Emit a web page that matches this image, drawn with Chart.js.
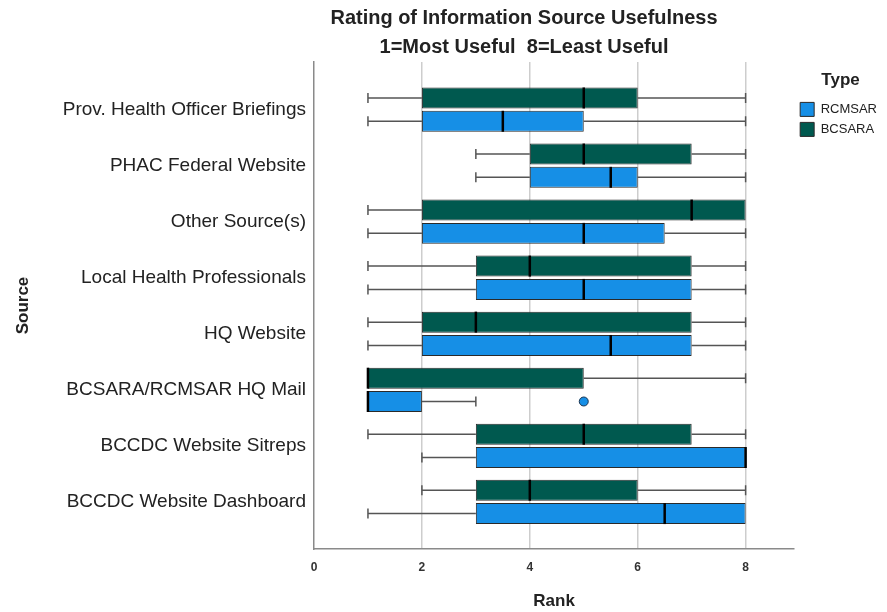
<!DOCTYPE html>
<html>
<head>
<meta charset="utf-8">
<script src="https://cdn.jsdelivr.net/npm/chart.js@4.4.0/dist/chart.umd.min.js"></script>
<style>
  html, body { margin: 0; padding: 0; background: #fff; }
  #wrap { width: 887px; height: 612px; }
</style>
</head>
<body>
<div id="wrap"><canvas id="chart"></canvas></div>
<script>
const sources = ['Prov. Health Officer Briefings', 'PHAC Federal Website', 'Other Source(s)', 'Local Health Professionals',
  'HQ Website', 'BCSARA/RCMSAR HQ Mail', 'BCCDC Website Sitreps', 'BCCDC Website Dashboard'];
const rankTicks = [0, 2, 4, 6, 8];

// BCSARA box stats (rank)
const bcsaraMin = [1, 3, 1, 1, 1, 1, 1, 2];
const bcsaraQ1  = [2, 4, 2, 3, 2, 1, 3, 3];
const bcsaraMed = [5, 5, 7, 4, 3, 1, 5, 4];
const bcsaraQ3  = [6, 7, 8, 7, 7, 5, 7, 6];
const bcsaraMax = [8, 8, 8, 8, 8, 8, 8, 8];

// RCMSAR box stats (rank)
const rcmsarMin = [1, 3, 1, 1, 1, 1, 2, 1];
const rcmsarQ1  = [2, 4, 2, 3, 2, 1, 3, 3];
const rcmsarMed = [3.5, 5.5, 5, 5, 5.5, 1, 8, 6.5];
const rcmsarQ3  = [5, 6, 6.5, 7, 7, 2, 8, 8];
const rcmsarMax = [8, 8, 8, 8, 8, 3, 8, 8];
const rcmsarOutliers = [[], [], [], [], [], [5], [], []];

Chart.defaults.font.family = "'Liberation Sans', Arial, sans-serif";

// whiskers behind the boxes, medians + outliers on top
const boxExtras = {
  id: 'boxExtras',
  beforeDatasetsDraw(chart) {
    const ctx = chart.ctx;
    const xs = chart.scales.x;
    chart.data.datasets.forEach((ds, di) => {
      chart.getDatasetMeta(di).data.forEach((bar, i) => {
        const y = bar.y;
        const lo = xs.getPixelForValue(ds.wMin[i]);
        const q1 = xs.getPixelForValue(ds.wQ1[i]);
        const q3 = xs.getPixelForValue(ds.wQ3[i]);
        const hi = xs.getPixelForValue(ds.wMax[i]);
        ctx.save();
        ctx.strokeStyle = '#555';
        ctx.lineWidth = 1.5;
        ctx.beginPath();
        if (lo < q1) {
          ctx.moveTo(lo, y); ctx.lineTo(q1, y);
          ctx.moveTo(lo, y - 5); ctx.lineTo(lo, y + 5);
        }
        if (hi > q3) {
          ctx.moveTo(q3, y); ctx.lineTo(hi, y);
          ctx.moveTo(hi, y - 5); ctx.lineTo(hi, y + 5);
        }
        ctx.stroke();
        ctx.restore();
      });
    });
  },
  afterDatasetsDraw(chart) {
    const ctx = chart.ctx;
    const xs = chart.scales.x;
    chart.data.datasets.forEach((ds, di) => {
      chart.getDatasetMeta(di).data.forEach((bar, i) => {
        const m = xs.getPixelForValue(ds.wMed[i]);
        const h = bar.height / 2;
        ctx.save();
        ctx.strokeStyle = '#000';
        ctx.lineWidth = 2.5;
        ctx.beginPath();
        ctx.moveTo(m, bar.y - h); ctx.lineTo(m, bar.y + h);
        ctx.stroke();
        (ds.outliers[i] || []).forEach(v => {
          ctx.beginPath();
          ctx.arc(xs.getPixelForValue(v), bar.y, 4.5, 0, Math.PI * 2);
          ctx.fillStyle = ds.backgroundColor;
          ctx.fill();
          ctx.lineWidth = 1;
          ctx.strokeStyle = '#1c3550';
          ctx.stroke();
        });
        ctx.restore();
      });
    });
  },
  afterDraw(chart) {
    const ctx = chart.ctx;
    ctx.save();
    ctx.fillStyle = '#222';
    ctx.textAlign = 'center';
    ctx.textBaseline = 'middle';
    ctx.font = "bold 20px 'Liberation Sans Narrow', 'Liberation Sans', Arial, sans-serif";
    ctx.fillText('Rating of Information Source Usefulness', 524, 18, 387);
    ctx.fillText('1=Most Useful  8=Least Useful', 524, 47, 291);
    ctx.restore();
  }
};

function boxData(q1, q3) {
  return sources.map((s, i) => ({ x: [q1[i], q3[i]], y: i }));
}

new Chart(document.getElementById('chart'), {
  type: 'bar',
  data: {
    datasets: [
      {
        label: 'BCSARA',
        data: boxData(bcsaraQ1, bcsaraQ3),
        backgroundColor: '#00594f',
        borderColor: '#2a2a2a',
        borderWidth: 1,
        borderSkipped: false,
        categoryPercentage: 0.832,
        barPercentage: 0.9,
        wMin: bcsaraMin, wQ1: bcsaraQ1, wMed: bcsaraMed, wQ3: bcsaraQ3, wMax: bcsaraMax,
        outliers: []
      },
      {
        label: 'RCMSAR',
        data: boxData(rcmsarQ1, rcmsarQ3),
        backgroundColor: '#168fe6',
        borderColor: '#2a2a2a',
        borderWidth: 1,
        borderSkipped: false,
        categoryPercentage: 0.832,
        barPercentage: 0.9,
        wMin: rcmsarMin, wQ1: rcmsarQ1, wMed: rcmsarMed, wQ3: rcmsarQ3, wMax: rcmsarMax,
        outliers: rcmsarOutliers
      }
    ]
  },
  options: {
    indexAxis: 'y',
    animation: false,
    responsive: true,
    maintainAspectRatio: false,
    layout: { padding: { top: 62, left: 3, bottom: 0, right: 0 } },
    scales: {
      x: {
        type: 'linear',
        position: 'bottom',
        min: 0,
        max: 8.9,
        afterBuildTicks: s => { s.ticks = rankTicks.map(v => ({ value: v })); },
        afterFit: s => { s.height = 63; },
        grid: {
          color: c => (c.tick && c.tick.value === 0) ? 'rgba(0,0,0,0)' : '#cdcdcd',
          lineWidth: 1.5,
          drawTicks: false
        },
        border: { color: '#8a8a8a', width: 1.5 },
        ticks: { padding: 11, color: '#333', font: { size: 12, weight: 'bold' } },
        title: { display: true, text: 'Rank', color: '#222', font: { size: 17, weight: 'bold' }, padding: { top: 4, bottom: 0 } }
      },
      y: {
        type: 'linear',
        reverse: true,
        offset: false,
        min: -0.85,
        max: 7.84,
        afterBuildTicks: s => { s.ticks = sources.map((_, i) => ({ value: i })); },
        afterFit: s => { s.width = 311; },
        grid: { display: false, drawTicks: false, offset: false },
        border: { color: '#8a8a8a', width: 1.5 },
        ticks: { callback: v => sources[v], color: '#222', font: { size: 19 }, padding: 8, autoSkip: false },
        title: { display: true, text: 'Source', color: '#222', font: { size: 17, weight: 'bold' }, padding: { top: 10, bottom: 4 } }
      }
    },
    plugins: {
      tooltip: { enabled: false },
      legend: {
        position: 'right',
        align: 'start',
        reverse: true,
        title: { display: true, text: 'Type', color: '#222', font: { size: 17, weight: 'bold' }, padding: { top: 10, bottom: 4 } },
        labels: { boxWidth: 14, boxHeight: 14, color: '#222', font: { size: 13 }, padding: 6 }
      }
    }
  },
  plugins: [boxExtras]
});
</script>
</body>
</html>
